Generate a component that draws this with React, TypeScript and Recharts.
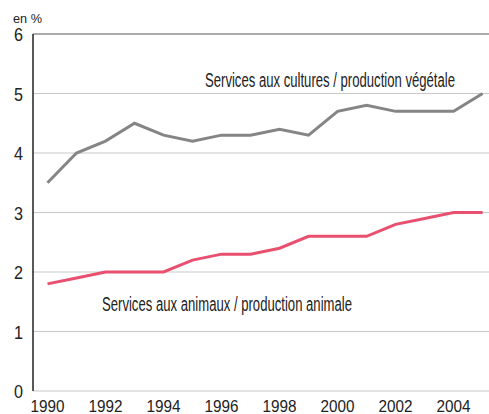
import React from 'react';
import { LineChart, Line, XAxis, YAxis, CartesianGrid, ReferenceLine } from 'recharts';

const years = [1990, 1991, 1992, 1993, 1994, 1995, 1996, 1997, 1998, 1999, 2000, 2001, 2002, 2003, 2004, 2005];
const cultures = [3.5, 4.0, 4.2, 4.5, 4.3, 4.2, 4.3, 4.3, 4.4, 4.3, 4.7, 4.8, 4.7, 4.7, 4.7, 5.0];
const animaux = [1.8, 1.9, 2.0, 2.0, 2.0, 2.2, 2.3, 2.3, 2.4, 2.6, 2.6, 2.6, 2.8, 2.9, 3.0, 3.0];
const markTicks = [1990.5, 1991.5, 1992.5, 1993.5, 1994.5, 1995.5, 1996.5, 1997.5, 1998.5, 1999.5, 2000.5, 2001.5, 2002.5, 2003.5, 2004.5];
const labelYears = [1990, 1992, 1994, 1996, 1998, 2000, 2002, 2004];
const yTicks = [0, 1, 2, 3, 4, 5, 6];

const data = years.map((year, i) => ({ year, cultures: cultures[i], animaux: animaux[i] }));

const FONT = '"Liberation Sans Narrow", "Liberation Sans", Arial, sans-serif';

// small inward tick marks on the x axis, between years
const MarkTick = (props: any) => {
  const { x, y } = props;
  return <line x1={x} x2={x} y1={y} y2={y - 8} stroke="#333" strokeWidth={1} />;
};

const YearTick = (props: any) => {
  const { x, y, payload } = props;
  return (
    <text x={x} y={y + 13} textAnchor="middle" fontSize={17} fill="#222" fontFamily={FONT}
      textLength={34} lengthAdjust="spacingAndGlyphs">
      {payload.value}
    </text>
  );
};

const ValueTick = (props: any) => {
  const { x, y, payload } = props;
  return (
    <text x={x} y={y + 7} textAnchor="end" fontSize={19} fill="#222" fontFamily={FONT}
      textLength={9} lengthAdjust="spacingAndGlyphs">
      {payload.value}
    </text>
  );
};

export default function App() {
  return (
    <div style={{ position: 'absolute', left: 0, top: 0, width: 489, height: 414, background: '#fff' }}>
      <LineChart width={489} height={414} data={data} margin={{ top: 34, right: 0, bottom: 0, left: 0 }}>
        <CartesianGrid xAxisId="a" vertical={false} stroke="#c8c8c8" strokeWidth={1.2} />
        <ReferenceLine xAxisId="a" y={6} stroke="#9a9a9a" strokeWidth={1.5} />
        <XAxis
          xAxisId="a"
          dataKey="year"
          type="number"
          domain={[1989.5, 2005.22]}
          ticks={markTicks}
          height={0}
          tickLine={false}
          tickSize={0}
          tickMargin={0}
          axisLine={{ stroke: '#222', strokeWidth: 2 }}
          tick={<MarkTick />}
          interval={0}
        />
        <XAxis
          xAxisId="b"
          dataKey="year"
          type="number"
          domain={[1989.5, 2005.22]}
          ticks={labelYears}
          height={23}
          tickLine={false}
          tickSize={0}
          tickMargin={8}
          axisLine={false}
          interval={0}
          tick={<YearTick />}
        />
        <YAxis
          domain={[0, 6]}
          ticks={yTicks}
          width={33}
          tickLine={false}
          tickSize={0}
          tickMargin={10}
          axisLine={{ stroke: '#222', strokeWidth: 1.5 }}
          tick={<ValueTick />}
          interval={0}
        />
        <Line xAxisId="a" type="linear" dataKey="cultures" stroke="#858585" strokeWidth={3} dot={false} isAnimationActive={false} />
        <Line xAxisId="a" type="linear" dataKey="animaux" stroke="#e9506f" strokeWidth={3} dot={false} isAnimationActive={false} />
      </LineChart>
      <svg width={489} height={414} style={{ position: 'absolute', left: 0, top: 0, pointerEvents: 'none' }}>
        <text x={13} y={23} fontSize={13} fill="#222" fontFamily={FONT} textLength={29} lengthAdjust="spacingAndGlyphs">en %</text>
        <text x={205} y={87} fontSize={20} fill="#222" fontFamily={FONT} textLength={250} lengthAdjust="spacingAndGlyphs">
          Services aux cultures / production végétale
        </text>
        <text x={102} y={311} fontSize={20} fill="#222" fontFamily={FONT} textLength={250} lengthAdjust="spacingAndGlyphs">
          Services aux animaux / production animale
        </text>
      </svg>
    </div>
  );
}
